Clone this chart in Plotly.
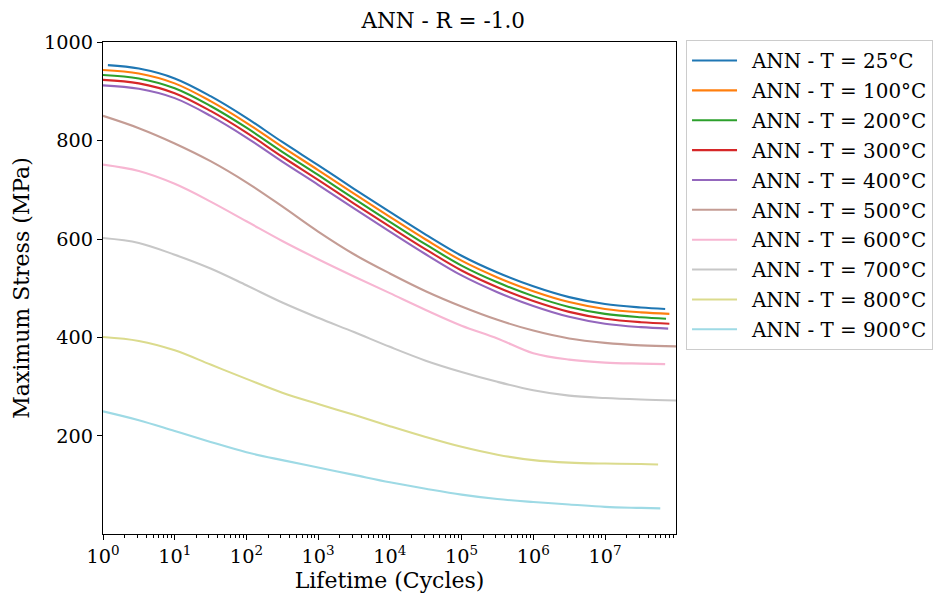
import plotly.graph_objects as go

# Lifetime grid (cycles) at half-decade steps; each curve adds its own start/end.
cycles_grid = [1, 3.16, 10, 31.6, 100, 316, 1e3, 3.16e3, 1e4, 3.16e4,
               1e5, 3.16e5, 1e6, 3.16e6, 1e7, 3.16e7]

temperatures = [25, 100, 200, 300, 400, 500, 600, 700, 800, 900]
start_cycles = [1.17, 1, 1, 1, 1, 1, 1, 1, 1, 1]
end_cycles = [6.9e7, 7.9e7, 7.1e7, 7.9e7, 7.6e7, 1.0e8, 6.9e7, 1.0e8, 5.5e7, 5.9e7]

# Maximum stress (MPa) on the grid, last value at the curve's end lifetime
stress_25 = [953, 946, 926, 890, 846, 797, 750, 702, 655, 609, 566, 532, 504, 482, 468, 461, 458]
stress_100 = [943, 936, 916, 880, 836, 787, 740, 692, 645, 599, 556, 522, 494, 472, 458, 451, 448]
stress_200 = [933, 926, 906, 870, 826, 777, 730, 682, 635, 589, 546, 512, 484, 462, 448, 441, 438]
stress_300 = [923, 916, 896, 860, 816, 767, 720, 672, 625, 579, 536, 502, 474, 452, 438, 431, 428]
stress_400 = [912, 905, 886, 850, 806, 757, 710, 662, 615, 569, 526, 492, 464, 442, 428, 421, 418]
stress_500 = [850, 825, 794, 758, 715, 666, 615, 569, 530, 494, 463, 436, 414, 398, 389, 384, 382]
stress_600 = [751, 738, 712, 676, 636, 596, 559, 524, 490, 456, 424, 398, 368, 355, 349, 347, 346]
stress_700 = [602, 592, 568, 540, 506, 471, 440, 411, 381, 353, 330, 310, 293, 282, 277, 274, 272]
stress_800 = [401, 393, 374, 345, 316, 288, 265, 243, 220, 198, 178, 162, 151, 146, 144, 143, 142]
stress_900 = [250, 232, 210, 188, 167, 151, 136, 121, 106, 93, 81, 72, 66, 61, 56, 54, 53]

stress_series = [stress_25, stress_100, stress_200, stress_300, stress_400,
                 stress_500, stress_600, stress_700, stress_800, stress_900]

colors = ["#1f77b4", "#ff7f0e", "#2ca02c", "#d62728", "#9467bd",
          "#c49c94", "#f7b6d2", "#c7c7c7", "#dbdb8d", "#9edae5"]

y_ticks = [200, 400, 600, 800, 1000]
x_tick_exponents = [0, 1, 2, 3, 4, 5, 6, 7]

FONT = "DejaVu Serif"
TICK_SIZE = 19.3
LABEL_SIZE = 22
LEGEND_SIZE = 19.9

fig = go.Figure()
for temp, stress, color, x0, x1 in zip(temperatures, stress_series, colors,
                                        start_cycles, end_cycles):
    xs = [x0] + cycles_grid[1:] + [x1]
    fig.add_trace(go.Scatter(
        x=xs, y=stress, mode="lines",
        line=dict(color=color, width=2.1, shape="spline", smoothing=1),
        name=f"\u2002ANN - T = {temp}°C", legendgroup=str(temp),
    ))

minor_vals = [m * 10 ** e for e in range(0, 8) for m in range(2, 10)]

fig.update_layout(
    width=936, height=595,
    margin=dict(l=103, r=260, t=42, b=61, autoexpand=False),
    paper_bgcolor="white", plot_bgcolor="white",
    font=dict(family=FONT, size=TICK_SIZE, color="black"),
    title=dict(text="ANN - R = -1.0", x=0.4735, xanchor="center",
               y=1 - 20 / 595, yanchor="middle",
               font=dict(family=FONT, size=21.5, color="black")),
    showlegend=True,
    legend=dict(x=1.0175, y=1.004, xanchor="left", yanchor="top",
                bordercolor="#cccccc", borderwidth=1, bgcolor="white",
                font=dict(family=FONT, size=LEGEND_SIZE, color="black"),
                tracegroupgap=1, itemwidth=45, maxheight=600),
)

fig.update_xaxes(
    type="log", range=[0, 7.99], automargin=False,
    tickmode="array", tickvals=[10 ** e for e in x_tick_exponents],
    ticktext=[f"10<sup>{e}</sup>" for e in x_tick_exponents],
    ticks="outside", ticklen=5, tickwidth=1.1, tickcolor="black",
    minor=dict(tickmode="array", tickvals=minor_vals, ticks="outside",
               ticklen=3, tickwidth=0.9, tickcolor="black"),
    showline=True, linecolor="black", linewidth=1.1, mirror=True,
    showgrid=False, zeroline=False,
    title=dict(text="Lifetime (Cycles)", standoff=4,
               font=dict(family=FONT, size=LABEL_SIZE)),
    tickfont=dict(family=FONT, size=TICK_SIZE),
)

fig.update_yaxes(
    range=[1, 1000], automargin=False,
    tickmode="array", tickvals=y_ticks,
    ticks="outside", ticklen=5, tickwidth=1.1, tickcolor="black",
    showline=True, linecolor="black", linewidth=1.1, mirror=True,
    showgrid=False, zeroline=False,
    title=dict(text="Maximum Stress (MPa)", standoff=8,
               font=dict(family=FONT, size=LABEL_SIZE)),
    tickfont=dict(family=FONT, size=TICK_SIZE),
)

fig.write_html("out.html")
